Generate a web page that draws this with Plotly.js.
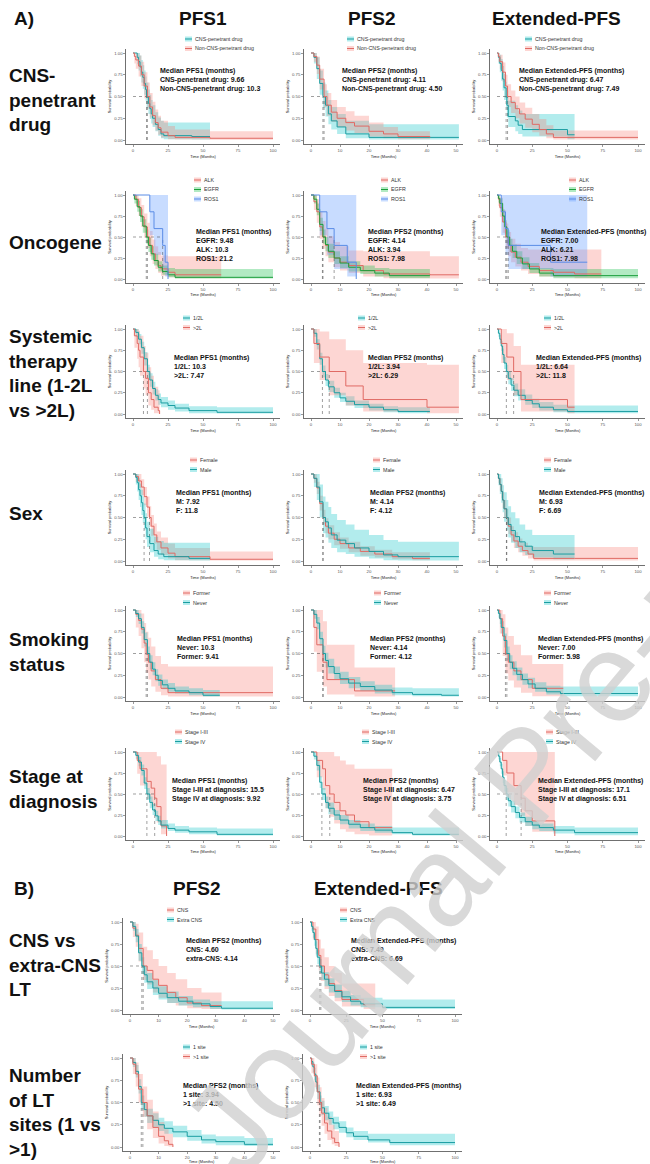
<!DOCTYPE html>
<html><head><meta charset="utf-8">
<script src="https://cdn.plot.ly/plotly-3.0.1.min.js"></script>
<style>html,body{margin:0;padding:0;background:#fff}</style>
</head><body><div id="chart" style="width:650px;height:1164px"></div>
<script>
// ================= DATA =================
const colTitlesA = ['PFS1','PFS2','Extended-PFS'];
const colTitlesB = ['PFS2','Extended-PFS'];
const rowLabelsA = ['CNS-<br>penetrant<br>drug','Oncogene','Systemic<br>therapy<br>line (1-2L<br>vs >2L)','Sex','Smoking<br>status','Stage at<br>diagnosis'];
const rowLabelsB = ['CNS vs<br>extra-CNS<br>LT','Number<br>of LT<br>sites (1 vs<br>>1)'];
const xTitle = 'Time (Months)';
const yTitle = 'Survival probability';
const yTicks = [0,0.25,0.5,0.75,1];
const yTickText = ['0.00','0.25','0.50','0.75','1.00'];
const xTicks100 = [0,25,50,75,100];
const xTicks50 = [0,10,20,30,40,50];

// legend names per row
const legR1 = ['CNS-penetrant drug','Non-CNS-penetrant drug'];
const legR2 = ['ALK','EGFR','ROS1'];
const legR3 = ['1/2L','>2L'];
const legR4 = ['Female','Male'];
const legR5 = ['Former','Never'];
const legR6 = ['Stage I-III','Stage IV'];
const legB1 = ['CNS','Extra CNS'];
const legB2 = ['1 site','>1 site'];

// annotation labels and medians (months)
const annTitles = ['Median PFS1 (months)','Median PFS2 (months)','Median Extended-PFS (months)'];
const labR1 = ['CNS-penetrant drug','Non-CNS-penetrant drug'];
const medR1 = [[9.66,10.3],[4.11,4.50],[6.47,7.49]];
const labR2 = ['EGFR','ALK','ROS1'];
const medR2 = [[9.48,10.3,21.2],[4.14,3.94,7.98],[7.00,6.21,7.98]];
const labR3 = ['1/2L','>2L'];
const medR3 = [[10.3,7.47],[3.94,6.29],[6.64,11.8]];
const labR4 = ['M','F'];
const medR4 = [[7.92,11.8],[4.14,4.12],[6.93,6.69]];
const labR5 = ['Never','Former'];
const medR5 = [[10.3,9.41],[4.14,4.12],[7.00,5.98]];
const labR6 = ['Stage I-III at diagnosis','Stage IV at diagnosis'];
const medR6 = [[15.5,9.92],[6.47,3.75],[17.1,6.51]];
const labB1 = ['CNS','extra-CNS'];
const medB1 = [[4.60,4.14],[7.49,6.69]];
const labB2 = ['1 site','>1 site'];
const medB2 = [[3.94,4.50],[6.93,6.49]];

// ---- survival curves: t (months), s (survival), lo/hi (95% CI) ----
const a1c1_cns = {t:[0,3,4,5,6,7,8,9,9.66,11,12,13,14,16,18,20,22,42,55], s:[1,0.95,0.9,0.84,0.78,0.72,0.65,0.58,0.5,0.42,0.36,0.3,0.25,0.18,0.12,0.07,0.05,0.04,0.04], lo:[1,0.87,0.8,0.73,0.66,0.59,0.52,0.45,0.37,0.3,0.24,0.19,0.15,0.1,0.05,0.02,0.01,0.005,0.005], hi:[1,1,1,0.97,0.92,0.86,0.8,0.73,0.66,0.58,0.52,0.46,0.4,0.32,0.26,0.22,0.2,0.2,0.2]};
const a1c1_non = {t:[0,1,2,4,6,8,10.3,12,14,16,18,20,25,30,55,100], s:[1,0.96,0.92,0.85,0.75,0.62,0.5,0.38,0.28,0.2,0.14,0.09,0.05,0.03,0.02,0.02], lo:[1,0.88,0.82,0.73,0.62,0.48,0.36,0.26,0.17,0.11,0.06,0.03,0.01,0.005,0.002,0.002], hi:[1,1,1,0.97,0.9,0.78,0.66,0.54,0.44,0.35,0.28,0.22,0.16,0.12,0.1,0.1]};
const a1c2_cns = {t:[0,1,2,3,4.11,5,6,7,9,12,20,51], s:[1,0.95,0.82,0.65,0.5,0.4,0.3,0.22,0.15,0.07,0.03,0.03], lo:[1,0.88,0.7,0.52,0.37,0.27,0.18,0.12,0.07,0.02,0.005,0.005], hi:[1,1,0.95,0.8,0.66,0.57,0.46,0.38,0.3,0.22,0.18,0.18]};
const a1c2_non = {t:[0,1,2,3,4.5,5.5,7,9,12,15,20,25,30,41], s:[1,0.96,0.86,0.7,0.5,0.4,0.32,0.25,0.2,0.16,0.1,0.07,0.04,0.03], lo:[1,0.9,0.76,0.58,0.38,0.28,0.21,0.15,0.11,0.08,0.04,0.02,0.01,0.005], hi:[1,1,0.96,0.82,0.64,0.54,0.46,0.38,0.33,0.28,0.2,0.15,0.1,0.1]};
const a1c3_cns = {t:[0,1,2,3,4,5,6.47,7,8,13,15,18,50,55], s:[1,0.95,0.88,0.8,0.7,0.6,0.5,0.4,0.27,0.22,0.17,0.12,0.06,0.06], lo:[1,0.88,0.78,0.68,0.57,0.46,0.35,0.26,0.15,0.1,0.07,0.04,0.01,0.01], hi:[1,1,0.98,0.93,0.85,0.76,0.67,0.57,0.45,0.4,0.34,0.3,0.3,0.3]};
const a1c3_non = {t:[0,1,2,4,6,7.49,10,13,16,20,25,30,35,40,100], s:[1,0.96,0.9,0.78,0.62,0.5,0.43,0.36,0.3,0.24,0.18,0.12,0.07,0.03,0.03], lo:[1,0.9,0.82,0.67,0.5,0.38,0.31,0.25,0.19,0.14,0.09,0.05,0.02,0.005,0.005], hi:[1,1,0.98,0.89,0.75,0.64,0.57,0.5,0.43,0.37,0.3,0.24,0.17,0.11,0.11]};

const a2c1_alk = {t:[0,2,4,6,8,10.3,12,14,16,18,20,25,30,63], s:[1,0.95,0.85,0.74,0.62,0.5,0.4,0.3,0.22,0.16,0.12,0.08,0.05,0.05], lo:[1,0.87,0.75,0.62,0.49,0.37,0.27,0.18,0.12,0.07,0.04,0.02,0.01,0.01], hi:[1,1,0.96,0.88,0.78,0.67,0.57,0.47,0.39,0.32,0.28,0.27,0.27,0.27]};
const a2c1_egfr = {t:[0,1,3,5,7,9.48,11,13,15,18,21,25,30,100], s:[1,0.95,0.86,0.75,0.63,0.5,0.4,0.3,0.22,0.14,0.09,0.05,0.02,0.02], lo:[1,0.9,0.8,0.68,0.55,0.42,0.32,0.23,0.16,0.09,0.05,0.02,0.005,0.005], hi:[1,1,0.93,0.83,0.71,0.59,0.49,0.39,0.3,0.21,0.16,0.13,0.12,0.12]};
const a2c1_ros1 = {t:[0,12,15,21.2,23,25], s:[1,0.8,0.6,0.4,0.2,0], lo:[1,0.52,0.29,0.12,0.03,0.03], hi:[1,1,1,1,1,1]};
const a2c2_alk = {t:[0,1,2,3,3.94,5,6,8,10,13,18,25,41,51], s:[1,0.92,0.8,0.62,0.5,0.4,0.32,0.25,0.2,0.16,0.1,0.06,0.05,0.05], lo:[1,0.82,0.67,0.48,0.36,0.27,0.2,0.14,0.1,0.07,0.03,0.01,0.005,0.005], hi:[1,1,0.95,0.8,0.69,0.6,0.51,0.44,0.39,0.34,0.33,0.33,0.27,0.27]};
const a2c2_egfr = {t:[0,1,2,3,4.14,5,6,8,10,13,17,22,27,41], s:[1,0.95,0.83,0.65,0.5,0.41,0.33,0.25,0.19,0.14,0.1,0.07,0.04,0.04], lo:[1,0.9,0.76,0.57,0.42,0.33,0.25,0.18,0.13,0.09,0.06,0.03,0.01,0.01], hi:[1,1,0.9,0.73,0.59,0.5,0.42,0.33,0.27,0.21,0.16,0.13,0.12,0.12]};
const a2c2_ros1 = {t:[0,3,5.5,7.98,12.5,15.6], s:[1,0.8,0.6,0.4,0.2,0], lo:[1,0.52,0.29,0.12,0.03,0.03], hi:[1,1,1,1,1,1]};
const a2c3_alk = {t:[0,1,2,4,6.21,8,10,13,17,22,30,40,55,74], s:[1,0.95,0.85,0.68,0.5,0.4,0.32,0.26,0.2,0.15,0.1,0.08,0.06,0.06], lo:[1,0.87,0.74,0.55,0.37,0.27,0.2,0.15,0.1,0.06,0.03,0.02,0.01,0.01], hi:[1,1,0.97,0.82,0.66,0.56,0.48,0.42,0.37,0.35,0.35,0.35,0.35,0.35]};
const a2c3_egfr = {t:[0,1,2,4,5.5,7,9,11,14,18,23,30,40,100], s:[1,0.96,0.9,0.75,0.62,0.5,0.4,0.33,0.25,0.18,0.12,0.07,0.04,0.04], lo:[1,0.91,0.84,0.67,0.54,0.42,0.32,0.25,0.18,0.12,0.07,0.03,0.01,0.01], hi:[1,1,0.96,0.83,0.7,0.58,0.48,0.41,0.33,0.26,0.19,0.13,0.12,0.12]};
const a2c3_ros1 = {t:[0,3,6,7.98,38,64], s:[1,0.8,0.6,0.4,0.2,0.2], lo:[1,0.52,0.29,0.12,0.03,0.03], hi:[1,1,1,1,1,1]};

const a3c1_12 = {t:[0,2,4,6,8,10.3,12,14,16,18,20,25,30,40,60,100], s:[1,0.96,0.88,0.78,0.65,0.5,0.4,0.3,0.22,0.17,0.13,0.1,0.07,0.04,0.02,0.02], lo:[1,0.91,0.82,0.71,0.57,0.42,0.32,0.23,0.16,0.11,0.08,0.05,0.03,0.01,0.005,0.005], hi:[1,1,0.94,0.85,0.73,0.58,0.48,0.38,0.29,0.24,0.2,0.16,0.12,0.09,0.08,0.08]};
const a3c1_gt2 = {t:[0,1,3,4,5,7.47,9,11,13,15,18,19], s:[1,0.92,0.83,0.75,0.67,0.5,0.42,0.25,0.17,0.08,0.04,0], lo:[1,0.78,0.65,0.55,0.45,0.3,0.22,0.1,0.05,0.01,0.005,0.005], hi:[1,1,1,0.98,0.92,0.8,0.72,0.55,0.45,0.32,0.28,0.28]};
const a3c2_12 = {t:[0,1,2,3,3.94,5,6,8,10,12,15,20,25,30,41], s:[1,0.95,0.82,0.65,0.5,0.4,0.32,0.25,0.19,0.15,0.11,0.08,0.05,0.03,0.03], lo:[1,0.91,0.76,0.58,0.43,0.33,0.26,0.19,0.14,0.1,0.07,0.04,0.02,0.01,0.01], hi:[1,1,0.88,0.72,0.57,0.47,0.39,0.31,0.25,0.21,0.16,0.12,0.09,0.08,0.08]};
const a3c2_gt2 = {t:[0,1,3,6.29,12,18,40,51], s:[1,0.83,0.67,0.5,0.33,0.17,0.08,0.08], lo:[1,0.6,0.4,0.22,0.1,0.03,0.01,0.01], hi:[1,1,0.97,0.88,0.75,0.6,0.58,0.58]};
const a3c3_12 = {t:[0,1,2,3,4,5,6.64,8,10,12,15,20,25,30,40,50,100], s:[1,0.95,0.88,0.8,0.7,0.6,0.5,0.42,0.34,0.28,0.22,0.16,0.12,0.08,0.05,0.03,0.03], lo:[1,0.91,0.83,0.74,0.64,0.53,0.43,0.35,0.27,0.21,0.16,0.11,0.07,0.04,0.02,0.01,0.01], hi:[1,1,0.93,0.86,0.77,0.67,0.58,0.5,0.42,0.36,0.29,0.23,0.18,0.14,0.11,0.1,0.1]};
const a3c3_gt2 = {t:[0,3,7,11.8,17,50,55], s:[1,0.83,0.67,0.5,0.17,0.08,0.08], lo:[1,0.6,0.4,0.22,0.03,0.01,0.01], hi:[1,1,0.95,0.8,0.58,0.58,0.58]};

const a4c1_f = {t:[0,2,4,6,8,10,11.8,13,15,17,20,25,30,55,100], s:[1,0.97,0.92,0.85,0.74,0.62,0.5,0.4,0.3,0.22,0.15,0.09,0.05,0.02,0.02], lo:[1,0.91,0.84,0.76,0.64,0.51,0.39,0.29,0.2,0.13,0.07,0.03,0.01,0.005,0.005], hi:[1,1,1,0.94,0.85,0.74,0.63,0.53,0.43,0.34,0.27,0.2,0.15,0.11,0.11]};
const a4c1_m = {t:[0,2,3,4,5,6,7,7.92,9,10,12,15,18,22,40,55], s:[1,0.96,0.9,0.82,0.75,0.67,0.58,0.5,0.38,0.28,0.2,0.12,0.08,0.05,0.03,0.03], lo:[1,0.88,0.8,0.7,0.62,0.53,0.44,0.36,0.25,0.16,0.1,0.05,0.02,0.01,0.005,0.005], hi:[1,1,1,0.95,0.89,0.82,0.74,0.66,0.55,0.45,0.37,0.28,0.23,0.21,0.21,0.21]};
const a4c2_f = {t:[0,1,2,3,4.12,5,6,8,10,13,17,22,28,35,41], s:[1,0.95,0.84,0.66,0.5,0.4,0.32,0.25,0.2,0.15,0.11,0.08,0.05,0.03,0.03], lo:[1,0.9,0.77,0.58,0.42,0.32,0.25,0.18,0.14,0.1,0.06,0.04,0.02,0.01,0.01], hi:[1,1,0.91,0.75,0.59,0.49,0.41,0.33,0.27,0.22,0.17,0.13,0.1,0.1,0.1]};
const a4c2_m = {t:[0,1,2,3,4.14,5,6,7,9,12,15,20,25,30,51], s:[1,0.95,0.85,0.68,0.5,0.45,0.38,0.3,0.24,0.2,0.15,0.11,0.07,0.05,0.05], lo:[1,0.85,0.7,0.5,0.32,0.27,0.21,0.15,0.1,0.08,0.05,0.03,0.01,0.005,0.005], hi:[1,1,1,0.88,0.74,0.68,0.62,0.54,0.47,0.42,0.36,0.3,0.24,0.22,0.22]};
const a4c3_f = {t:[0,1,2,3,4,5,6.69,8,10,12,15,18,22,26,55,100], s:[1,0.95,0.88,0.8,0.7,0.6,0.5,0.4,0.3,0.23,0.17,0.12,0.08,0.03,0.03,0.03], lo:[1,0.9,0.81,0.72,0.61,0.51,0.41,0.31,0.22,0.15,0.1,0.06,0.03,0.005,0.005,0.005], hi:[1,1,0.95,0.88,0.79,0.7,0.6,0.5,0.4,0.33,0.26,0.21,0.17,0.16,0.16,0.16]};
const a4c3_m = {t:[0,1,2,3,4,5,6.93,8,10,13,16,20,25,40,55], s:[1,0.95,0.88,0.8,0.7,0.6,0.5,0.42,0.35,0.28,0.22,0.17,0.12,0.08,0.08], lo:[1,0.87,0.77,0.67,0.56,0.45,0.35,0.27,0.21,0.15,0.1,0.07,0.04,0.02,0.02], hi:[1,1,1,0.95,0.87,0.79,0.7,0.63,0.56,0.49,0.42,0.36,0.3,0.3,0.3]};

const a5c1_former = {t:[0,2,4,6,8,9.41,11,13,16,20,25,100], s:[1,0.95,0.88,0.78,0.62,0.5,0.4,0.3,0.2,0.1,0.05,0.05], lo:[1,0.8,0.7,0.56,0.4,0.28,0.2,0.12,0.06,0.02,0.005,0.005], hi:[1,1,1,0.96,0.85,0.75,0.68,0.58,0.47,0.38,0.35,0.35]};
const a5c1_never = {t:[0,2,4,6,8,10.3,12,14,16,18,21,25,30,40,50,62], s:[1,0.96,0.9,0.8,0.66,0.5,0.4,0.32,0.25,0.19,0.14,0.1,0.07,0.05,0.02,0.02], lo:[1,0.92,0.84,0.73,0.58,0.42,0.32,0.25,0.18,0.13,0.09,0.06,0.04,0.02,0.005,0.005], hi:[1,1,0.96,0.87,0.74,0.58,0.48,0.4,0.32,0.26,0.2,0.16,0.12,0.1,0.08,0.08]};
const a5c2_former = {t:[0,1,2,4.12,5.5,15,29], s:[1,0.8,0.6,0.4,0.2,0.07,0.07], lo:[1,0.52,0.29,0.12,0.03,0.005,0.005], hi:[1,1,1,0.87,0.6,0.34,0.34]};
const a5c2_never = {t:[0,1,2,3,4.14,5,6,8,10,13,17,22,28,35,45,51], s:[1,0.95,0.85,0.67,0.5,0.42,0.35,0.27,0.21,0.16,0.12,0.08,0.05,0.03,0.02,0.02], lo:[1,0.9,0.78,0.59,0.42,0.34,0.27,0.2,0.15,0.1,0.07,0.04,0.02,0.01,0.005,0.005], hi:[1,1,0.92,0.75,0.59,0.51,0.44,0.35,0.29,0.23,0.18,0.14,0.11,0.1,0.1,0.1]};
const a5c3_former = {t:[0,2,4,5.98,8,12,17,25,47], s:[1,0.9,0.7,0.5,0.4,0.3,0.2,0.1,0.1], lo:[1,0.73,0.47,0.27,0.19,0.11,0.05,0.01,0.01], hi:[1,1,0.95,0.8,0.7,0.6,0.48,0.38,0.38]};
const a5c3_never = {t:[0,1,2,3,5,7,9,11,14,18,22,27,35,45,100], s:[1,0.96,0.9,0.8,0.65,0.5,0.4,0.33,0.26,0.2,0.15,0.1,0.06,0.04,0.04], lo:[1,0.91,0.84,0.73,0.57,0.42,0.32,0.25,0.19,0.14,0.1,0.06,0.03,0.01,0.01], hi:[1,1,0.96,0.87,0.73,0.58,0.48,0.41,0.34,0.27,0.22,0.17,0.13,0.12,0.12]};

const a6c1_13 = {t:[0,3,5,10,13,15.5,17,20,24], s:[1,0.9,0.8,0.65,0.57,0.45,0.35,0.12,0], lo:[1,0.74,0.6,0.44,0.35,0.25,0.16,0.02,0.02], hi:[1,1,1,1,1,1,0.95,0.85,0.85]};
const a6c1_4 = {t:[0,2,4,6,8,9.92,12,14,16,18,20,25,30,40,60,100], s:[1,0.96,0.88,0.78,0.63,0.5,0.4,0.31,0.24,0.18,0.13,0.09,0.07,0.05,0.02,0.02], lo:[1,0.92,0.83,0.72,0.56,0.43,0.33,0.25,0.18,0.13,0.09,0.06,0.04,0.02,0.005,0.005], hi:[1,1,0.94,0.85,0.7,0.57,0.47,0.38,0.3,0.24,0.19,0.15,0.12,0.1,0.09,0.09]};
const a6c2_13 = {t:[0,2,4,5,6.47,8,10,12,15,20,28], s:[1,0.9,0.8,0.6,0.5,0.4,0.3,0.25,0.17,0.1,0.1], lo:[1,0.7,0.55,0.33,0.23,0.15,0.08,0.05,0.02,0.005,0.005], hi:[1,1,1,1,1,0.95,0.9,0.85,0.8,0.8,0.8]};
const a6c2_4 = {t:[0,1,2,3,3.75,5,6,8,10,13,17,22,28,35,51], s:[1,0.95,0.84,0.64,0.5,0.4,0.33,0.25,0.19,0.14,0.1,0.07,0.04,0.02,0.02], lo:[1,0.91,0.78,0.57,0.43,0.33,0.26,0.19,0.14,0.09,0.06,0.04,0.02,0.005,0.005], hi:[1,1,0.9,0.71,0.57,0.47,0.4,0.31,0.25,0.19,0.15,0.12,0.1,0.1,0.1]};
const a6c3_13 = {t:[0,4,7,12,17.1,20,25,41], s:[1,0.9,0.75,0.6,0.45,0.3,0.18,0], lo:[1,0.72,0.52,0.37,0.24,0.12,0.05,0.05], hi:[1,1,1,1,1,1,1,1]};
const a6c3_4 = {t:[0,1,2,3,4,5,6.51,8,10,13,16,20,25,30,40,55,100], s:[1,0.95,0.88,0.8,0.7,0.6,0.5,0.42,0.35,0.28,0.22,0.17,0.13,0.1,0.07,0.04,0.04], lo:[1,0.91,0.83,0.74,0.63,0.53,0.43,0.35,0.28,0.21,0.16,0.12,0.08,0.06,0.03,0.01,0.01], hi:[1,1,0.93,0.86,0.77,0.67,0.57,0.49,0.42,0.35,0.28,0.23,0.18,0.15,0.12,0.1,0.1]};

const b1c1_cns = {t:[0,1,2,3,4.6,6,8,10,13,16,20,25,32], s:[1,0.93,0.85,0.7,0.5,0.45,0.35,0.28,0.2,0.14,0.08,0.05,0.05], lo:[1,0.83,0.72,0.55,0.34,0.29,0.2,0.14,0.08,0.05,0.02,0.01,0.01], hi:[1,1,0.98,0.88,0.72,0.68,0.58,0.5,0.42,0.35,0.25,0.2,0.2]};
const b1c1_ext = {t:[0,1,2,3,4.14,5,6,8,10,13,17,22,28,32,50], s:[1,0.95,0.84,0.65,0.5,0.4,0.32,0.25,0.19,0.14,0.1,0.07,0.04,0.02,0.02], lo:[1,0.9,0.77,0.56,0.41,0.31,0.24,0.17,0.12,0.08,0.05,0.03,0.01,0.005,0.005], hi:[1,1,0.92,0.75,0.6,0.5,0.42,0.34,0.27,0.21,0.16,0.12,0.1,0.1,0.1]};
const b1c2_cns = {t:[0,2,4,6,7.49,10,13,17,22,37,45], s:[1,0.92,0.8,0.62,0.5,0.4,0.3,0.22,0.12,0.06,0.06], lo:[1,0.8,0.64,0.45,0.33,0.24,0.16,0.1,0.04,0.01,0.01], hi:[1,1,0.95,0.8,0.7,0.6,0.5,0.42,0.3,0.3,0.3]};
const b1c2_ext = {t:[0,1,2,3,4,5,6.69,8,10,13,17,22,28,35,50,100], s:[1,0.95,0.88,0.8,0.7,0.6,0.5,0.42,0.35,0.28,0.21,0.15,0.1,0.07,0.03,0.03], lo:[1,0.9,0.82,0.73,0.62,0.52,0.42,0.34,0.27,0.2,0.14,0.09,0.05,0.03,0.01,0.01], hi:[1,1,0.94,0.87,0.78,0.68,0.58,0.5,0.43,0.36,0.29,0.22,0.17,0.14,0.12,0.12]};
const b2c1_one = {t:[0,1,2,3,3.94,5,6,8,10,12,15,20,25,30,40,50], s:[1,0.95,0.85,0.68,0.5,0.42,0.35,0.3,0.25,0.21,0.17,0.12,0.08,0.06,0.03,0.03], lo:[1,0.9,0.78,0.6,0.42,0.34,0.27,0.22,0.18,0.15,0.11,0.07,0.04,0.02,0.01,0.01], hi:[1,1,0.92,0.76,0.58,0.5,0.43,0.38,0.33,0.29,0.24,0.19,0.14,0.12,0.1,0.1]};
const b2c1_gt1 = {t:[0,1,2,3,4.5,6,8,10,12,13.5,15], s:[1,0.93,0.82,0.65,0.5,0.35,0.22,0.12,0.07,0.03,0], lo:[1,0.82,0.68,0.5,0.34,0.2,0.1,0.04,0.01,0.005,0.005], hi:[1,1,0.95,0.82,0.68,0.53,0.4,0.28,0.2,0.15,0.15]};
const b2c2_one = {t:[0,1,2,3,4,5,6.93,8,10,13,16,20,25,30,40,55,100], s:[1,0.96,0.9,0.82,0.73,0.62,0.5,0.44,0.38,0.32,0.27,0.22,0.16,0.12,0.08,0.05,0.05], lo:[1,0.91,0.84,0.75,0.65,0.54,0.42,0.36,0.3,0.25,0.2,0.16,0.11,0.08,0.05,0.02,0.02], hi:[1,1,0.95,0.89,0.81,0.7,0.58,0.52,0.46,0.4,0.34,0.29,0.22,0.18,0.15,0.15,0.15]};
const b2c2_gt1 = {t:[0,1,3,5,6.49,8,10,12,15,17,20], s:[1,0.93,0.8,0.62,0.5,0.38,0.27,0.18,0.1,0.05,0], lo:[1,0.83,0.67,0.47,0.35,0.24,0.15,0.08,0.03,0.01,0.01], hi:[1,1,0.93,0.78,0.67,0.55,0.44,0.34,0.25,0.18,0.18]};

// ================= STYLE / GEOMETRY =================
const TEAL = {line:'#1a9da1', fill:'rgba(0,191,196,0.3)'};
const RED = {line:'#e06a64', fill:'rgba(248,118,109,0.3)'};
const GREEN = {line:'#1c9e3c', fill:'rgba(0,186,56,0.3)'};
const BLUE = {line:'#5a8ce6', fill:'rgba(97,156,255,0.35)'};
const W = 650, H = 1164;
const FONT = 'Liberation Sans, Arial, Helvetica, sans-serif';
const px = x => x / W, py = y => 1 - y / H;

const colA = [{p0:133,p1:273,max:100,ticks:xTicks100},{p0:311,p1:456,max:50,ticks:xTicks50},{p0:497,p1:638,max:100,ticks:xTicks100}];
const colB = [{p0:130,p1:273,max:50,ticks:xTicks50},{p0:310,p1:455,max:100,ticks:xTicks100}];
const rowA = [{y1:53,y0:140},{y1:195,y0:279},{y1:329,y0:414},{y1:474,y0:561},{y1:610,y0:697},{y1:752,y0:836}];
const rowB = [{y1:922,y0:1010},{y1:1058,y0:1147}];
const legXA = [[185,347,525],[194,381,569],[183,358,544],[190,373,544],[183,374,544],[175,362,546]];
const legYA = [39,180,318,460,593,732];
const legXB = [[167,340],[183,360]];
const legYB = [910,1047];
const annXA = [[159,341,518],[195,367,540],[173,367,535],[175,369,538],[176,369,537],[171,362,537]];
const annYA = [70,232,357,492,638,780];
const annXB = [[185,350],[182,355]];
const annYB = [940,1085];
const rowLabYA = [100,242,374,513,652,789];
const rowLabYB = [965,1112];

const data = [], annotations = [], shapes = [];
const layout = {width:W,height:H,margin:{l:0,r:0,t:0,b:0},paper_bgcolor:'#fff',plot_bgcolor:'rgba(0,0,0,0)',
  showlegend:false,font:{family:FONT,color:'#222'},annotations:annotations,shapes:shapes};
const AX = {showline:true,linecolor:'#111',linewidth:0.6,ticks:'outside',ticklen:2,tickwidth:0.5,tickcolor:'#333',
  tickfont:{size:4.3,color:'#555',family:FONT},showgrid:false,zeroline:false,automargin:false,fixedrange:true};

let n = 0;
function panel(col,row,series,colors,legNames,legX,legY,annX,annY,title,labels,meds){
  n++;
  const sfx = n===1 ? '' : String(n);
  const xa = 'x'+sfx, ya = 'y'+sfx;
  const sx = col.p1-col.p0, sy = row.y0-row.y1;
  layout['xaxis'+sfx] = Object.assign({},AX,{domain:[px(col.p0-0.05*sx),px(col.p1+0.05*sx)],range:[-0.05*col.max,1.05*col.max],anchor:ya,
    tickvals:col.ticks,ticktext:col.ticks.map(String),title:{text:xTitle,font:{size:4,color:'#222'},standoff:2}});
  layout['yaxis'+sfx] = Object.assign({},AX,{domain:[py(row.y0+0.05*sy),py(row.y1-0.05*sy)],range:[-0.05,1.05],anchor:xa,
    tickvals:yTicks,ticktext:yTickText,title:{text:yTitle,font:{size:4,color:'#222'},standoff:2}});
  series.forEach((d,i)=>{
    data.push({x:d.t,y:d.lo,xaxis:xa,yaxis:ya,mode:'lines',line:{width:0,shape:'hv'},hoverinfo:'skip'});
    data.push({x:d.t,y:d.hi,xaxis:xa,yaxis:ya,mode:'lines',line:{width:0,shape:'hv'},fill:'tonexty',fillcolor:colors[i].fill,hoverinfo:'skip'});
  });
  const mx=[0,Math.max(...meds),null], my=[0.5,0.5,null];
  meds.forEach(m=>{mx.push(m,m,null);my.push(0,0.5,null);});
  data.push({x:mx,y:my,xaxis:xa,yaxis:ya,mode:'lines',line:{width:0.6,dash:'dot',color:'rgba(40,40,40,0.75)'},hoverinfo:'skip'});
  series.forEach((d,i)=>{
    data.push({x:d.t,y:d.s,xaxis:xa,yaxis:ya,mode:'lines',line:{width:1,shape:'hv',color:colors[i].line},hoverinfo:'skip'});
  });
  // legend
  legNames.forEach((nm,i)=>{
    const yy = legY + i*9.5;
    shapes.push({type:'rect',xref:'paper',yref:'paper',x0:px(legX),x1:px(legX+7),y0:py(yy+2.5),y1:py(yy-2.5),fillcolor:colors[i].fill,line:{width:0}});
    shapes.push({type:'line',xref:'paper',yref:'paper',x0:px(legX),x1:px(legX+7),y0:py(yy),y1:py(yy),line:{color:colors[i].line,width:1}});
    annotations.push({text:nm,x:px(legX+9),y:py(yy),xref:'paper',yref:'paper',xanchor:'left',yanchor:'middle',showarrow:false,borderpad:0,font:{size:5.3,color:'#333'}});
  });
  // median annotation
  const lines = ['<b>'+title+'</b>'].concat(labels.map((l,i)=>'<b>'+l+': '+meds[i].toPrecision(3)+'</b>'));
  annotations.push({text:lines.join('<br>'),x:px(annX),y:py(annY-4.5),xref:'paper',yref:'paper',xanchor:'left',yanchor:'top',align:'left',
    showarrow:false,borderpad:0,font:{size:7,color:'#111'}});
}

// Section A
const rowsA = [
  {ser:[[a1c1_cns,a1c1_non],[a1c2_cns,a1c2_non],[a1c3_cns,a1c3_non]],col:[TEAL,RED],leg:legR1,lab:labR1,med:medR1},
  {ser:[[a2c1_alk,a2c1_egfr,a2c1_ros1],[a2c2_alk,a2c2_egfr,a2c2_ros1],[a2c3_alk,a2c3_egfr,a2c3_ros1]],col:[RED,GREEN,BLUE],leg:legR2,lab:labR2,med:medR2},
  {ser:[[a3c1_12,a3c1_gt2],[a3c2_12,a3c2_gt2],[a3c3_12,a3c3_gt2]],col:[TEAL,RED],leg:legR3,lab:labR3,med:medR3},
  {ser:[[a4c1_f,a4c1_m],[a4c2_f,a4c2_m],[a4c3_f,a4c3_m]],col:[RED,TEAL],leg:legR4,lab:labR4,med:medR4},
  {ser:[[a5c1_former,a5c1_never],[a5c2_former,a5c2_never],[a5c3_former,a5c3_never]],col:[RED,TEAL],leg:legR5,lab:labR5,med:medR5},
  {ser:[[a6c1_13,a6c1_4],[a6c2_13,a6c2_4],[a6c3_13,a6c3_4]],col:[RED,TEAL],leg:legR6,lab:labR6,med:medR6}
];
rowsA.forEach((r,ri)=>{
  for(let c=0;c<3;c++){
    panel(colA[c],rowA[ri],r.ser[c],r.col,r.leg,legXA[ri][c],legYA[ri],annXA[ri][c],annYA[ri],annTitles[c],r.lab,r.med[c]);
  }
});
const rowsB = [
  {ser:[[b1c1_cns,b1c1_ext],[b1c2_cns,b1c2_ext]],col:[RED,TEAL],leg:legB1,lab:labB1,med:medB1},
  {ser:[[b2c1_one,b2c1_gt1],[b2c2_one,b2c2_gt1]],col:[TEAL,RED],leg:legB2,lab:labB2,med:medB2}
];
rowsB.forEach((r,ri)=>{
  for(let c=0;c<2;c++){
    panel(colB[c],rowB[ri],r.ser[c],r.col,r.leg,legXB[ri][c],legYB[ri],annXB[ri][c],annYB[ri],annTitles[c+1],r.lab,r.med[c]);
  }
});

// headings and row labels
const BIG = {size:19,color:'#111',family:FONT};
function txt(t,x,y,xa,opts){annotations.push(Object.assign({text:'<b>'+t+'</b>',x:px(x),y:py(y),xref:'paper',yref:'paper',xanchor:xa,yanchor:'middle',align:'left',showarrow:false,borderpad:0,font:BIG},opts||{}));}
txt('A)',13,18.5,'left');
txt('B)',13,888,'left');
[203,372,556].forEach((x,i)=>txt(colTitlesA[i],x,18.5,'center'));
[197,378].forEach((x,i)=>txt(colTitlesB[i],x,888,'center'));
rowLabelsA.forEach((t,i)=>txt(t.split('<br>').join('</b><br><b>'),8,rowLabYA[i],'left'));
rowLabelsB.forEach((t,i)=>txt(t.split('<br>').join('</b><br><b>'),8,rowLabYB[i],'left'));

// watermark
annotations.push({text:'Journal Pre-proof',x:px(525),y:py(775),xref:'paper',yref:'paper',xanchor:'center',yanchor:'middle',showarrow:false,textangle:-50,
  font:{size:128,color:'rgba(208,208,208,0.8)',family:FONT}});

Plotly.newPlot('chart',data,layout,{staticPlot:true,displayModeBar:false});
</script></body></html>
